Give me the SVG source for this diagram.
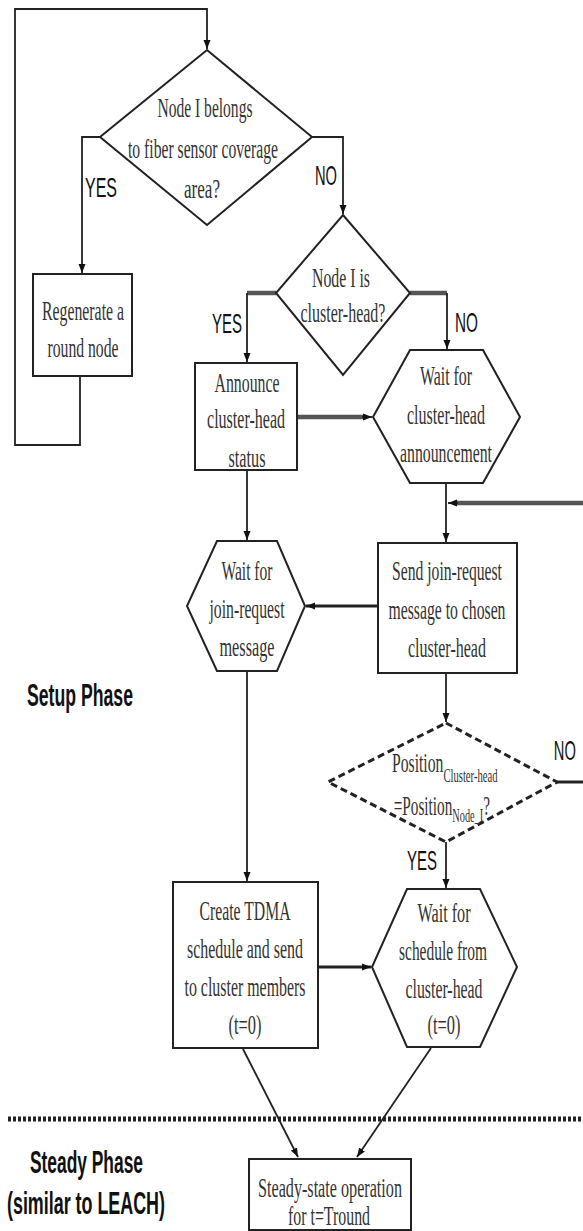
<svg xmlns="http://www.w3.org/2000/svg" width="583" height="1231" viewBox="0 0 583 1231">
  <defs>
    <marker id="arrow" markerUnits="userSpaceOnUse" markerWidth="10" markerHeight="8" refX="9" refY="4" orient="auto">
      <path d="M0,0.5 L9,4 L0,7.5 Z" fill="#111"/>
    </marker>
    <style>
      .shape { fill: #fff; stroke: #222; stroke-width: 2; }
      .dashed { fill: none; stroke: #222; stroke-width: 3; stroke-dasharray: 7 4; }
      .line { fill: none; stroke: #222; stroke-width: 1.8; }
      .thick { fill: none; stroke: #555; stroke-width: 4.5; }
      .bold { fill: none; stroke: #222; stroke-width: 3; }
      .sep { fill: none; stroke: #222; stroke-width: 5; stroke-dasharray: 3 2; }
      /* all labels are set in condensed type: each label group is squeezed to 55% width,
         so x positions and lengths inside those groups are in the widened space (x / 0.55) */
      .t { font-family: "Liberation Serif", "Times New Roman", serif; font-size: 28px; fill: #333; text-anchor: middle; }
      .ts { font-family: "Liberation Serif", "Times New Roman", serif; font-size: 28px; fill: #333; }
      .sub { font-size: 19px; }
      .lbl { font-family: "Liberation Sans", Arial, sans-serif; font-size: 27px; fill: #111; }
      .phase { font-family: "Liberation Sans", Arial, sans-serif; font-size: 31px; font-weight: bold; fill: #111; }
    </style>
  </defs>

  <!-- connectors -->
  <g id="connectors">
    <!-- loop back from regeneration to the first decision -->
    <polyline class="line" points="80,376 80,445 15,445 15,9 207,9 207,49" marker-end="url(#arrow)"/>
    <!-- coverage decision: YES / NO -->
    <polyline class="line" points="100,137 82,137 82,273" marker-end="url(#arrow)"/>
    <polyline class="line" points="312,137 343,137 343,214" marker-end="url(#arrow)"/>
    <!-- cluster-head decision: YES / NO -->
    <polyline class="thick" points="276,293 247,293"/>
    <polyline class="line" points="247,293 247,362" marker-end="url(#arrow)"/>
    <polyline class="thick" points="410,293 447,293"/>
    <polyline class="line" points="447,293 447,349" marker-end="url(#arrow)"/>
    <!-- announce to wait for announcement -->
    <line class="thick" x1="298" y1="417" x2="366" y2="417"/>
    <line class="line" x1="362" y1="417" x2="372" y2="417" marker-end="url(#arrow)"/>
    <!-- announcement to join-request -->
    <line class="line" x1="446" y1="483" x2="446" y2="542" marker-end="url(#arrow)"/>
    <!-- return path from the position check (NO) -->
    <line class="thick" x1="583" y1="503" x2="454" y2="503"/>
    <line class="line" x1="458" y1="503" x2="448" y2="503" marker-end="url(#arrow)"/>
    <!-- announce to wait for join-request -->
    <line class="line" x1="247" y1="470" x2="247" y2="540" marker-end="url(#arrow)"/>
    <!-- join-request to wait for join-request -->
    <line class="bold" x1="378" y1="606" x2="306" y2="606" marker-end="url(#arrow)"/>
    <!-- send join-request to position check -->
    <line class="line" x1="446" y1="673" x2="446" y2="722" marker-end="url(#arrow)"/>
    <!-- position check NO -->
    <line class="bold" x1="557" y1="782" x2="583" y2="782" stroke="#555"/>
    <!-- position check YES -->
    <line class="line" x1="446" y1="842" x2="446" y2="888" marker-end="url(#arrow)"/>
    <!-- wait for join-request to TDMA -->
    <line class="line" x1="247" y1="671" x2="247" y2="881" marker-end="url(#arrow)"/>
    <!-- TDMA to wait for schedule -->
    <line class="bold" x1="318" y1="967" x2="371" y2="967" stroke-width="4" marker-end="url(#arrow)"/>
    <!-- into steady state -->
    <line class="line" x1="243" y1="1049" x2="298" y2="1157" marker-end="url(#arrow)"/>
    <line class="line" x1="431" y1="1048" x2="357" y2="1157" marker-end="url(#arrow)"/>
  </g>

  <!-- phase separator -->
  <line class="sep" x1="8" y1="1119" x2="583" y2="1119"/>

  <!-- decision: coverage area -->
  <g id="decision-coverage">
    <polygon class="shape" points="207,50 312,137 207,225 100,137"/>
    <g transform="scale(0.55,1)">
      <text class="t" x="372.7" y="117" textLength="172.7" lengthAdjust="spacingAndGlyphs">Node I belongs</text>
      <text class="t" x="369.1" y="158" textLength="272.7" lengthAdjust="spacingAndGlyphs">to fiber sensor coverage</text>
      <text class="t" x="367.3" y="198" textLength="65.5" lengthAdjust="spacingAndGlyphs">area?</text>
    </g>
  </g>

  <!-- regenerate -->
  <g id="regenerate">
    <rect class="shape" x="33" y="274" width="99" height="102"/>
    <g transform="scale(0.55,1)">
      <text class="t" x="150.9" y="320" textLength="149.1" lengthAdjust="spacingAndGlyphs">Regenerate a</text>
      <text class="t" x="150.9" y="357" textLength="129.1" lengthAdjust="spacingAndGlyphs">round node</text>
    </g>
  </g>

  <!-- decision: cluster-head -->
  <g id="decision-cluster-head">
    <polygon class="shape" points="343,215 410,293 343,375 276,293"/>
    <g transform="scale(0.55,1)">
      <text class="t" x="620" y="287" textLength="105.5" lengthAdjust="spacingAndGlyphs">Node I is</text>
      <text class="t" x="623.6" y="322" textLength="154.5" lengthAdjust="spacingAndGlyphs">cluster-head?</text>
    </g>
  </g>

  <!-- announce cluster-head status -->
  <g id="announce">
    <rect class="shape" x="195" y="363" width="102" height="107"/>
    <g transform="scale(0.55,1)">
      <text class="t" x="449.1" y="392" textLength="118.2" lengthAdjust="spacingAndGlyphs">Announce</text>
      <text class="t" x="447.3" y="428" textLength="141.8" lengthAdjust="spacingAndGlyphs">cluster-head</text>
      <text class="t" x="449.1" y="467" textLength="67.3" lengthAdjust="spacingAndGlyphs">status</text>
    </g>
  </g>

  <!-- wait for cluster-head announcement -->
  <g id="wait-announcement">
    <polygon class="shape" points="410,350 483,350 520,417 483,483 410,483 373,417"/>
    <g transform="scale(0.55,1)">
      <text class="t" x="810.9" y="385" textLength="94.5" lengthAdjust="spacingAndGlyphs">Wait for</text>
      <text class="t" x="810.9" y="424" textLength="141.8" lengthAdjust="spacingAndGlyphs">cluster-head</text>
      <text class="t" x="810.9" y="462" textLength="167.3" lengthAdjust="spacingAndGlyphs">announcement</text>
    </g>
  </g>

  <!-- wait for join-request -->
  <g id="wait-join">
    <polygon class="shape" points="217,541 277,541 305,606 277,671 217,671 187,606"/>
    <g transform="scale(0.55,1)">
      <text class="t" x="449.1" y="580" textLength="92.7" lengthAdjust="spacingAndGlyphs">Wait for</text>
      <text class="t" x="449.1" y="618" textLength="136.4" lengthAdjust="spacingAndGlyphs">join-request</text>
      <text class="t" x="449.1" y="656" textLength="100" lengthAdjust="spacingAndGlyphs">message</text>
    </g>
  </g>

  <!-- send join-request -->
  <g id="send-join">
    <rect class="shape" x="378" y="543" width="139" height="130"/>
    <g transform="scale(0.55,1)">
      <text class="t" x="812.7" y="580" textLength="200" lengthAdjust="spacingAndGlyphs">Send join-request</text>
      <text class="t" x="812.7" y="619" textLength="212.7" lengthAdjust="spacingAndGlyphs">message to chosen</text>
      <text class="t" x="812.7" y="657" textLength="141.8" lengthAdjust="spacingAndGlyphs">cluster-head</text>
    </g>
  </g>

  <!-- decision: position check (subscripts as tspans) -->
  <g id="decision-position">
    <polygon class="dashed" points="446,723 557,782 446,842 328,782"/>
    <g transform="scale(0.55,1)">
      <text class="ts" x="712.7" y="772" textLength="192" lengthAdjust="spacingAndGlyphs">Position<tspan class="sub" dy="10">Cluster-head</tspan></text>
      <text class="ts" x="716" y="815" textLength="175" lengthAdjust="spacingAndGlyphs">=Position<tspan class="sub" dy="7">Node_I</tspan><tspan dy="-7">?</tspan></text>
    </g>
  </g>

  <!-- create TDMA schedule -->
  <g id="create-tdma">
    <rect class="shape" x="173" y="882" width="145" height="166"/>
    <g transform="scale(0.55,1)">
      <text class="t" x="445.5" y="920" textLength="165.5" lengthAdjust="spacingAndGlyphs">Create TDMA</text>
      <text class="t" x="445.5" y="958" textLength="210.9" lengthAdjust="spacingAndGlyphs">schedule and send</text>
      <text class="t" x="445.5" y="996" textLength="220" lengthAdjust="spacingAndGlyphs">to cluster members</text>
      <text class="t" x="445.5" y="1034" textLength="60" lengthAdjust="spacingAndGlyphs">(t=0)</text>
    </g>
  </g>

  <!-- wait for schedule -->
  <g id="wait-schedule">
    <polygon class="shape" points="407,889 480,889 517,967 480,1047 407,1047 372,967"/>
    <g transform="scale(0.55,1)">
      <text class="t" x="807.3" y="922" textLength="96.4" lengthAdjust="spacingAndGlyphs">Wait for</text>
      <text class="t" x="805.5" y="960" textLength="160" lengthAdjust="spacingAndGlyphs">schedule from</text>
      <text class="t" x="807.3" y="998" textLength="140" lengthAdjust="spacingAndGlyphs">cluster-head</text>
      <text class="t" x="807.3" y="1034" textLength="60" lengthAdjust="spacingAndGlyphs">(t=0)</text>
    </g>
  </g>

  <!-- steady-state operation -->
  <g id="steady-state">
    <rect class="shape" x="249" y="1159" width="162" height="71"/>
    <g transform="scale(0.55,1)">
      <text class="t" x="600" y="1197" textLength="261.8" lengthAdjust="spacingAndGlyphs">Steady-state operation</text>
      <text class="t" x="598.2" y="1225" textLength="149.1" lengthAdjust="spacingAndGlyphs">for t=Tround</text>
    </g>
  </g>

  <!-- branch labels and phase captions -->
  <g id="labels" transform="scale(0.55,1)">
    <text class="lbl" x="154.5" y="197" textLength="58.2" lengthAdjust="spacingAndGlyphs">YES</text>
    <text class="lbl" x="572.7" y="185" textLength="40" lengthAdjust="spacingAndGlyphs">NO</text>
    <text class="lbl" x="385.5" y="333" textLength="54.5" lengthAdjust="spacingAndGlyphs">YES</text>
    <text class="lbl" x="827.3" y="332" textLength="41.8" lengthAdjust="spacingAndGlyphs">NO</text>
    <text class="lbl" x="1007" y="760" textLength="40" lengthAdjust="spacingAndGlyphs">NO</text>
    <text class="lbl" x="740" y="870" textLength="54.5" lengthAdjust="spacingAndGlyphs">YES</text>
    <text class="phase" x="49.1" y="706" textLength="192.7" lengthAdjust="spacingAndGlyphs">Setup Phase</text>
    <text class="phase" x="54.5" y="1173" textLength="205.5" lengthAdjust="spacingAndGlyphs">Steady Phase</text>
    <text class="phase" x="12.7" y="1214" textLength="287.3" lengthAdjust="spacingAndGlyphs">(similar to LEACH)</text>
  </g>
</svg>
